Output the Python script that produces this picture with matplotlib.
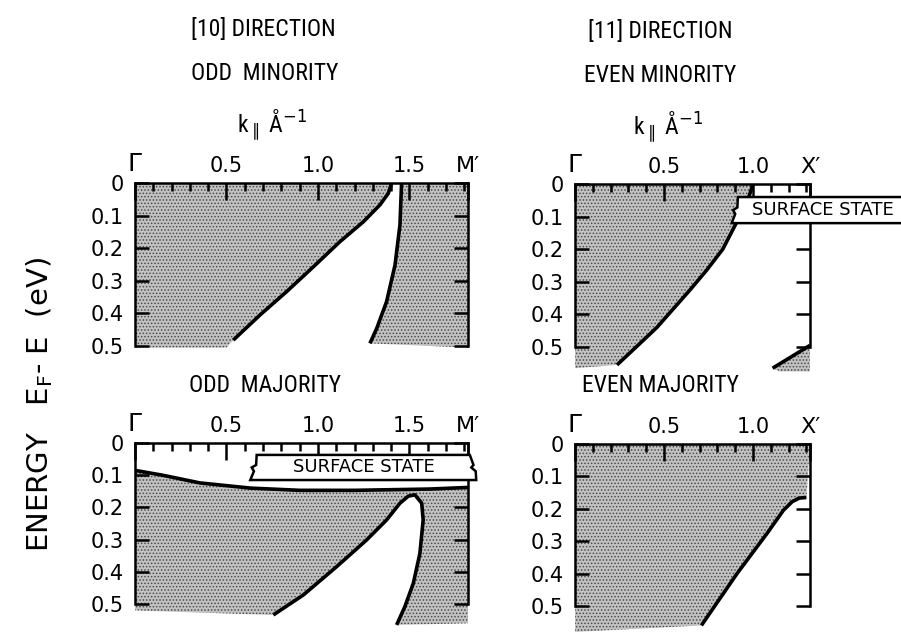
import numpy as np
import matplotlib
matplotlib.use("Agg")
import matplotlib.pyplot as plt
from matplotlib.ticker import MultipleLocator

plt.rcParams['font.family'] = ['DejaVu Sans']
plt.rcParams['hatch.color'] = '#4a4a4a'
plt.rcParams['hatch.linewidth'] = 0.7

# ---- data (k in 1/A, energy E_F - E in eV) ----
k_end_10 = 1.82   # M'
k_end_11 = 1.32   # X'

# odd minority, [10]
oddmin_a_k = [1.403, 1.384, 1.339, 1.248, 1.120, 0.975, 0.829, 0.683, 0.537]
oddmin_a_e = [0.0, 0.032, 0.067, 0.119, 0.180, 0.257, 0.333, 0.405, 0.482]
oddmin_b_k = [1.457, 1.448, 1.421, 1.375, 1.321, 1.284]
oddmin_b_e = [0.0, 0.129, 0.252, 0.364, 0.446, 0.492]

# even minority, [11]
evenmin_k = [1.00, 0.98, 0.95, 0.90, 0.83, 0.74, 0.646, 0.46, 0.365, 0.236]
evenmin_e = [0.0, 0.034, 0.07, 0.126, 0.20, 0.264, 0.325, 0.44, 0.489, 0.555]
evenmin_corner_k = [1.11, 1.32]
evenmin_corner_e = [0.565, 0.495]

# odd majority, [10]
oddmaj_ss_k = [0.0, 0.15, 0.355, 0.63, 0.90, 1.20, 1.61, 1.82]
oddmaj_ss_e = [0.085, 0.10, 0.124, 0.14, 0.147, 0.147, 0.143, 0.138]
oddmaj_pk_k = [0.756, 0.920, 1.102, 1.266, 1.375, 1.448, 1.494, 1.530, 1.567,
               1.575, 1.557, 1.521, 1.475, 1.430]
oddmaj_pk_e = [0.534, 0.472, 0.384, 0.301, 0.239, 0.187, 0.165, 0.161, 0.187,
               0.239, 0.343, 0.436, 0.508, 0.565]

# even majority, [11]
evenmaj_k = [1.30, 1.26, 1.22, 1.17, 1.08, 0.91, 0.71]
evenmaj_e = [0.165, 0.167, 0.178, 0.205, 0.275, 0.40, 0.56]

yticks = [0, 0.1, 0.2, 0.3, 0.4, 0.5]
ytick_labels = ['0', '0.1', '0.2', '0.3', '0.4', '0.5']

fig = plt.figure(figsize=(9.01, 6.35), dpi=100)

shade = dict(facecolor='#c2c2c2', edgecolor='#4a4a4a', hatch='.....', linewidth=0, zorder=1)
line = dict(color='black', lw=2.6, zorder=3, solid_capstyle='butt', solid_joinstyle='round')


def setup(ax, kmax, end_label):
    ax.set_xlim(0, kmax)
    ax.set_ylim(0.6, 0)
    ax.set_facecolor('none')
    ax.spines['bottom'].set_visible(False)
    for s in ['top', 'left', 'right']:
        ax.spines[s].set_linewidth(1.8)
        ax.spines[s].set_zorder(4)
    ax.spines['left'].set_bounds(0, 0.5)
    ax.spines['right'].set_bounds(0, 0.5)
    ax.xaxis.tick_top()
    if kmax > 1.5:
        ax.set_xticks([0, 0.5, 1.0, 1.5, kmax], ['\u0393', '0.5', '1.0', '1.5', end_label], fontsize=15)
    else:
        ax.set_xticks([0, 0.5, 1.0, kmax], ['\u0393', '0.5', '1.0', end_label], fontsize=15)
    ax.xaxis.set_minor_locator(MultipleLocator(0.1))
    ax.tick_params(axis='x', which='major', direction='in', length=12, width=1.8,
                   pad=5, top=True, bottom=False)
    ax.tick_params(axis='x', which='minor', direction='in', length=6, width=1.8,
                   top=True, bottom=False)
    ax.set_yticks(yticks, ytick_labels, fontsize=15)
    ax.tick_params(axis='y', direction='in', length=10, width=1.8,
                   pad=8, left=True, right=True, labelright=False)
    lab = ax.get_xticklabels()
    lab[0].set_fontsize(18)
    lab[-1].set_fontsize(16)


def surface_box(ax, x0, x1, y0, y1):
    h = y1 - y0
    w = 0.012
    xs = [x0 + 0.035, x1, x1 + 0.02, x1 + 0.02 - w, x1 + 0.02 + w, x1 + 0.035, x1 + 0.015,
          x0, x0 + 0.02, x0 + 0.02 - w, x0 + 0.02 + w, x0 + 0.035]
    ys = [y0, y0, y0 + 0.4 * h, y0 + 0.5 * h, y0 + 0.65 * h, y1, y1,
          y1, y0 + 0.65 * h, y0 + 0.5 * h, y0 + 0.4 * h, y0]
    ax.fill(xs, ys, facecolor='white', edgecolor='black', lw=1.8, zorder=6, clip_on=False)
    ax.text((x0 + x1) / 2 + 0.02, (y0 + y1) / 2, 'SURFACE STATE', ha='center', va='center',
            fontsize=13, zorder=7, clip_on=False)


# top-left: odd minority
ax1 = fig.add_axes([135 / 901, 1 - 378.6 / 635, 333 / 901, 195.6 / 635])
setup(ax1, k_end_10, "M\u2032")
ax1.fill([0] + oddmin_a_k + [0.50, 0], [0] + oddmin_a_e + [0.505, 0.505], **shade)
ax1.fill(oddmin_b_k + [k_end_10, k_end_10], oddmin_b_e + [0.505, 0], **shade)
ax1.plot(oddmin_a_k, oddmin_a_e, **line)
ax1.plot(oddmin_b_k, oddmin_b_e, **line)

# top-right: even minority
ax2 = fig.add_axes([575 / 901, 1 - 379.6 / 635, 235 / 901, 195.6 / 635])
setup(ax2, k_end_11, "X\u2032")
ax2.fill([0] + evenmin_k + [0], [0] + evenmin_e + [0.565], **shade)
ax2.fill(evenmin_corner_k + [k_end_11, 1.15], evenmin_corner_e + [0.575, 0.575], **shade)
ax2.plot(evenmin_k, evenmin_e, **line)
ax2.plot(evenmin_corner_k, evenmin_corner_e, **line)
surface_box(ax2, 0.88, 1.86, 0.04, 0.12)

# bottom-left: odd majority
ax3 = fig.add_axes([135 / 901, 1 - 636.2 / 635, 333 / 901, 193.2 / 635])
setup(ax3, k_end_10, "M\u2032")
ax3.fill(oddmaj_ss_k + [k_end_10] + oddmaj_pk_k[::-1] + [0],
         oddmaj_ss_e + [0.56] + oddmaj_pk_e[::-1] + [0.52], **shade)
ax3.plot(oddmaj_ss_k, oddmaj_ss_e, **line)
ax3.plot(oddmaj_pk_k, oddmaj_pk_e, **line)
surface_box(ax3, 0.63, 1.83, 0.037, 0.115)

# bottom-right: even majority
ax4 = fig.add_axes([575 / 901, 1 - 638.4 / 635, 235 / 901, 194.4 / 635])
setup(ax4, k_end_11, "X\u2032")
ax4.fill([0, k_end_11] + evenmaj_k + [0], [0, 0] + evenmaj_e + [0.58], **shade)
ax4.plot(evenmaj_k, evenmaj_e, **line)

# headings
nar = ['Roboto Condensed', 'Liberation Sans Narrow', 'DejaVu Sans']
fig.text(263 / 901, 1 - 30 / 635, '[10] DIRECTION', ha='center', va='center', fontsize=17, family=nar)
fig.text(660 / 901, 1 - 32 / 635, '[11] DIRECTION', ha='center', va='center', fontsize=17, family=nar)
fig.text(265 / 901, 1 - 74 / 635, 'ODD  MINORITY', ha='center', va='center', fontsize=17, family=nar)
fig.text(660 / 901, 1 - 76 / 635, 'EVEN MINORITY', ha='center', va='center', fontsize=17, family=nar)
fig.text(272 / 901, 1 - 125 / 635, r'k$_{\parallel}$ $\mathregular{\AA}^{-1}$', ha='center', va='center',
         fontsize=17, family=nar)
fig.text(668 / 901, 1 - 127 / 635, r'k$_{\parallel}$ $\mathregular{\AA}^{-1}$', ha='center', va='center',
         fontsize=17, family=nar)
fig.text(265 / 901, 1 - 386 / 635, 'ODD  MAJORITY', ha='center', va='center', fontsize=17, family=nar)
fig.text(660 / 901, 1 - 386 / 635, 'EVEN MAJORITY', ha='center', va='center', fontsize=17, family=nar)
fig.text(40 / 901, 1 - 405 / 635, r'ENERGY   E$_\mathregular{F}$- E  (eV)', rotation=90,
         ha='center', va='center', fontsize=21)

fig.savefig('out.png', dpi=100)
